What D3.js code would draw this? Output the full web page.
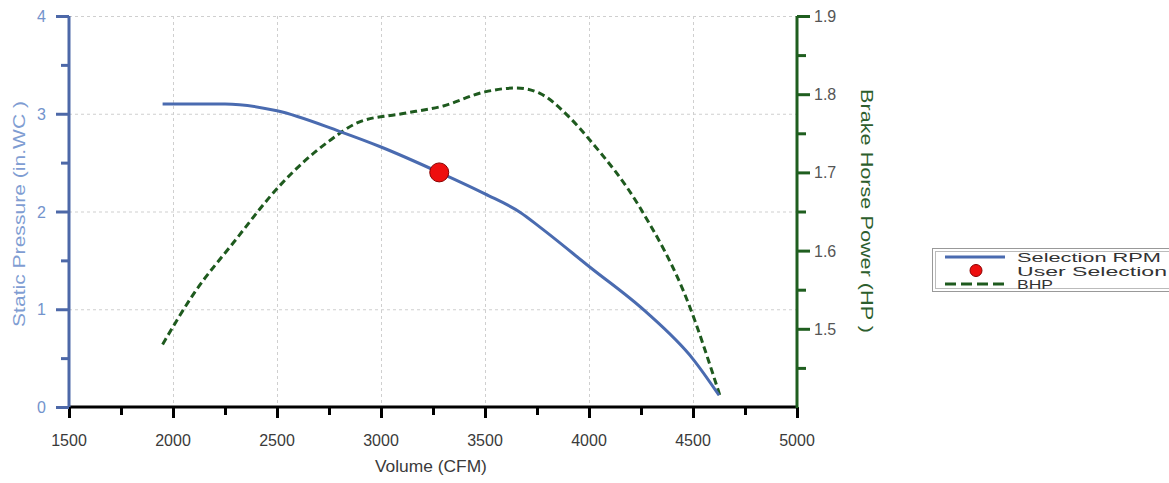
<!DOCTYPE html>
<html>
<head>
<meta charset="utf-8">
<script src="https://cdn.jsdelivr.net/npm/d3@7"></script>
<style>
  body { margin: 0; background: #fff; }
  svg { font-family: "Liberation Sans", Arial, sans-serif; }
</style>
</head>
<body>
<svg id="chart" width="1169" height="483"></svg>
<script>
// fan curve data
const rpmVolume   = [1950, 2250, 2500, 2800, 3000, 3280, 3500, 3670, 3764, 4005, 4270, 4500, 4625];
const rpmPressure = [3.10, 3.10, 3.03, 2.82, 2.66, 2.40, 2.18, 1.99, 1.84, 1.43, 0.98, 0.49, 0.12];

const bhpVolume = [1950, 2100, 2290, 2520, 2750, 2900, 3100, 3300, 3500, 3650, 3764, 3900, 4005, 4245, 4486, 4596, 4630];
const bhpValue  = [1.48, 1.545, 1.61, 1.685, 1.74, 1.765, 1.775, 1.785, 1.803, 1.808, 1.801, 1.772, 1.741, 1.655, 1.527, 1.442, 1.414];

const userSelection = [3280, 2.40];

const xTicks = [1500, 2000, 2500, 3000, 3500, 4000, 4500, 5000];
const yLeftTicks = [0, 1, 2, 3, 4];
const yRightTicks = [1.5, 1.6, 1.7, 1.8, 1.9];
const legendLabels = ["Selection RPM", "User Selection", "BHP"];

const m = {top: 16, left: 69, right: 797, bottom: 407};

const svg = d3.select('#chart');

const x = d3.scaleLinear().domain([1500, 5000]).range([m.left, m.right]);
const yL = d3.scaleLinear().domain([0, 4]).range([m.bottom, m.top]);
const yR = d3.scaleLinear().domain([1.4, 1.9]).range([m.bottom, m.top]);

// grid
const grid = svg.append('g')
  .attr('stroke', '#cfcfcf')
  .attr('stroke-width', 1)
  .attr('stroke-dasharray', '3,3');
grid.selectAll('.vg').data(xTicks.slice(1, -1)).enter().append('line')
  .attr('x1', d => x(d) + 0.5).attr('x2', d => x(d) + 0.5)
  .attr('y1', m.top).attr('y2', m.bottom);
grid.selectAll('.hg').data(yLeftTicks.slice(1)).enter().append('line')
  .attr('x1', m.left).attr('x2', m.right)
  .attr('y1', d => yL(d) + 0.5).attr('y2', d => yL(d) + 0.5);

// x axis
const xAxis = svg.append('g')
  .attr('transform', 'translate(0,' + m.bottom + ')')
  .call(d3.axisBottom(x).tickValues(d3.range(1500, 5001, 250)).tickSize(0).tickFormat(''));
xAxis.select('.domain').remove();
xAxis.selectAll('.tick line')
  .attr('y2', (d, i) => i % 2 === 0 ? 11 : 8)
  .attr('stroke', '#000').attr('stroke-width', 3);
svg.append('line')
  .attr('x1', m.left).attr('x2', m.right)
  .attr('y1', m.bottom).attr('y2', m.bottom)
  .attr('stroke', '#000').attr('stroke-width', 3);
svg.append('g').selectAll('text').data(xTicks).enter().append('text')
  .attr('x', d => x(d)).attr('y', m.bottom + 39)
  .attr('text-anchor', 'middle')
  .attr('font-size', 16).attr('fill', '#3a3a3a')
  .text(d => d);
svg.append('text')
  .attr('x', x(3240)).attr('y', 472)
  .attr('text-anchor', 'middle')
  .attr('font-size', 16).attr('fill', '#3a3a3a')
  .attr('textLength', 112).attr('lengthAdjust', 'spacingAndGlyphs')
  .text('Volume (CFM)');

// left axis
const leftCol = '#4d68a8';
const yLaxis = svg.append('g')
  .attr('transform', 'translate(' + m.left + ',0)')
  .call(d3.axisLeft(yL).tickValues(d3.range(0, 4.01, 0.5)).tickSize(0).tickFormat(''));
yLaxis.select('.domain').remove();
yLaxis.selectAll('.tick line')
  .attr('x2', (d, i) => i % 2 === 0 ? -13 : -8)
  .attr('stroke', leftCol).attr('stroke-width', 3);
svg.append('line')
  .attr('x1', m.left).attr('x2', m.left)
  .attr('y1', m.top).attr('y2', m.bottom)
  .attr('stroke', leftCol).attr('stroke-width', 3);
svg.append('g').selectAll('text').data(yLeftTicks).enter().append('text')
  .attr('x', 46).attr('y', d => yL(d) + 6)
  .attr('text-anchor', 'end')
  .attr('font-size', 16).attr('fill', '#7393cc')
  .text(d => d);
svg.append('text')
  .attr('transform', 'translate(25,214) rotate(-90)')
  .attr('text-anchor', 'middle')
  .attr('font-size', 17).attr('fill', '#7f9dd2')
  .attr('textLength', 226).attr('lengthAdjust', 'spacingAndGlyphs')
  .text('Static Pressure (in.WC )');

// right axis
const rightCol = '#1f5e1f';
const yRaxis = svg.append('g')
  .attr('transform', 'translate(' + m.right + ',0)')
  .call(d3.axisRight(yR).tickValues(d3.range(1.45, 1.91, 0.05)).tickSize(0).tickFormat(''));
yRaxis.select('.domain').remove();
yRaxis.selectAll('.tick line')
  .attr('x2', (d, i) => i % 2 === 1 ? 13 : 9)
  .attr('stroke', rightCol).attr('stroke-width', 3);
svg.append('line')
  .attr('x1', m.right).attr('x2', m.right)
  .attr('y1', m.top).attr('y2', m.bottom + 1)
  .attr('stroke', rightCol).attr('stroke-width', 3);
svg.append('g').selectAll('text').data(yRightTicks).enter().append('text')
  .attr('x', 814).attr('y', d => yR(d) + 6)
  .attr('font-size', 16).attr('fill', '#555')
  .text(d => d.toFixed(1));
svg.append('text')
  .attr('transform', 'translate(861,211) rotate(90)')
  .attr('text-anchor', 'middle')
  .attr('font-size', 17).attr('fill', '#2d5e2d')
  .attr('textLength', 244).attr('lengthAdjust', 'spacingAndGlyphs')
  .text('Brake Horse Power (HP )');

// series
const blue = '#4a6bb0';
const green = '#1e5a1e';
const rpmLine = d3.line().x(d => x(d[0])).y(d => yL(d[1])).curve(d3.curveMonotoneX);
const bhpLine = d3.line().x(d => x(d[0])).y(d => yR(d[1])).curve(d3.curveMonotoneX);

svg.append('path')
  .datum(bhpVolume.map((v, i) => [v, bhpValue[i]]))
  .attr('d', bhpLine)
  .attr('fill', 'none').attr('stroke', green)
  .attr('stroke-width', 3).attr('stroke-dasharray', '7,4');

svg.append('path')
  .datum(rpmVolume.map((v, i) => [v, rpmPressure[i]]))
  .attr('d', rpmLine)
  .attr('fill', 'none').attr('stroke', blue)
  .attr('stroke-width', 3);

svg.append('circle')
  .attr('cx', x(userSelection[0])).attr('cy', yL(userSelection[1]))
  .attr('r', 9.5)
  .attr('fill', '#ee0f0f').attr('stroke', '#8a0000').attr('stroke-width', 1);

// legend
const lg = svg.append('g');
lg.append('rect').attr('x', 932.5).attr('y', 248.5).attr('width', 250).attr('height', 43)
  .attr('fill', '#fff').attr('stroke', '#999');
lg.append('rect').attr('x', 935.5).attr('y', 251.5).attr('width', 250).attr('height', 37)
  .attr('fill', 'none').attr('stroke', '#bbb');
const ly = [257, 270.5, 284];
lg.append('line').attr('x1', 945).attr('x2', 1005).attr('y1', ly[0]).attr('y2', ly[0])
  .attr('stroke', blue).attr('stroke-width', 3);
lg.append('circle').attr('cx', 976).attr('cy', ly[1]).attr('r', 6)
  .attr('fill', '#ee0f0f').attr('stroke', '#8a0000');
lg.append('line').attr('x1', 945).attr('x2', 1005).attr('y1', ly[2]).attr('y2', ly[2])
  .attr('stroke', green).attr('stroke-width', 3).attr('stroke-dasharray', '11,5');
const legendWidths = [144, 150, 36];
lg.selectAll('.lt').data(legendLabels).enter().append('text')
  .attr('x', 1017).attr('y', (d, i) => ly[i] + 5)
  .attr('font-size', 12).attr('fill', '#333')
  .attr('textLength', (d, i) => legendWidths[i]).attr('lengthAdjust', 'spacingAndGlyphs')
  .text(d => d);
</script>
</body>
</html>
